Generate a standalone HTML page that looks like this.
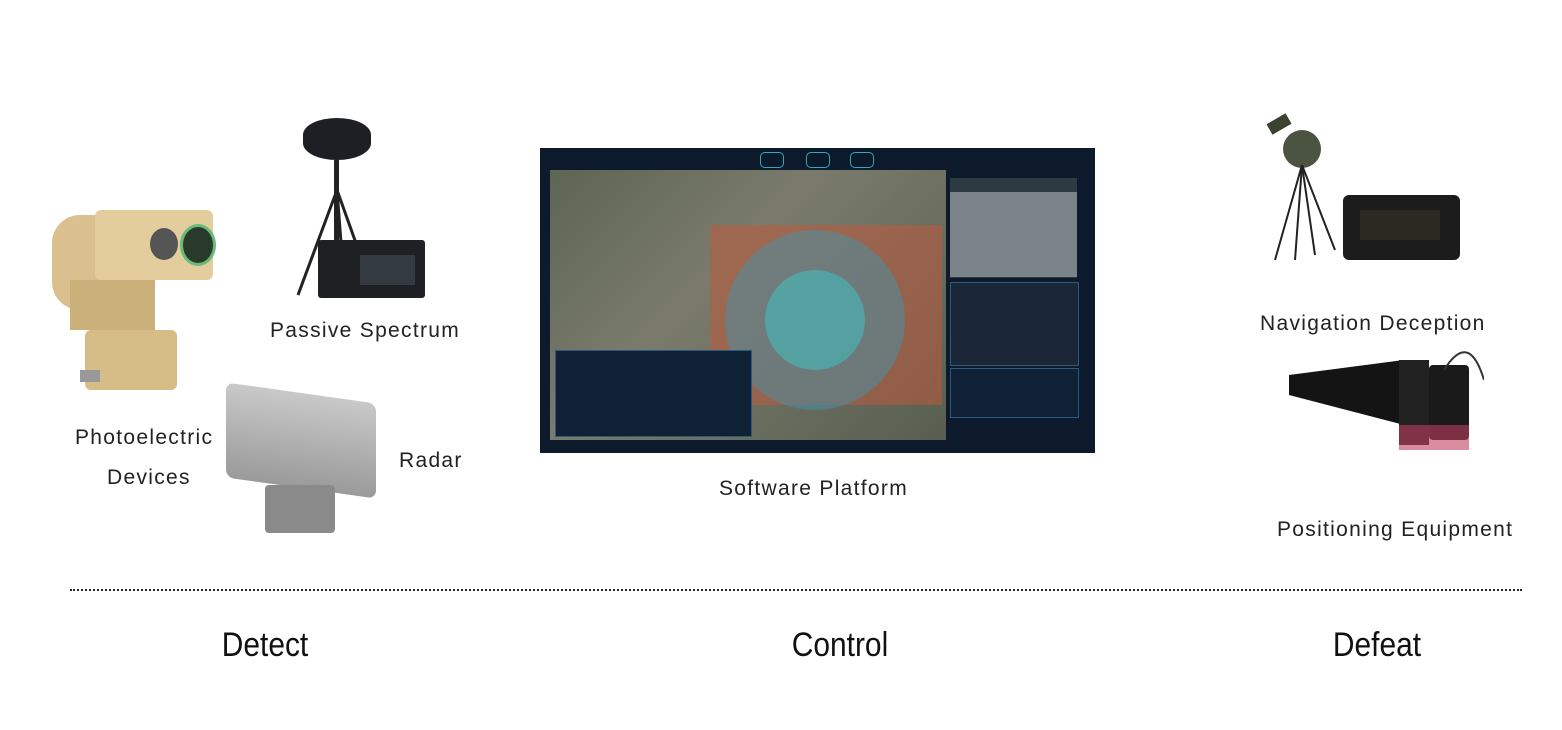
<!DOCTYPE html>
<html><head><meta charset="utf-8"><style>
body{margin:0;width:1562px;height:730px;background:#fff;position:relative;overflow:hidden;font-family:"Liberation Sans","DejaVu Sans",sans-serif}
.a{position:absolute}
.lbl{position:absolute;font-size:21px;letter-spacing:1.3px;color:#222;white-space:nowrap}
.big{position:absolute;font-size:34px;color:#111;white-space:nowrap;transform:scaleX(0.88);transform-origin:center}
</style></head><body>

<!-- Photoelectric device -->
<div class="a" style="left:52px;top:215px;width:58px;height:95px;background:#d9c08e;border-radius:28px 10px 10px 28px"></div>
<div class="a" style="left:95px;top:210px;width:118px;height:70px;background:#e3cd9c;border-radius:6px"></div>
<div class="a" style="left:150px;top:228px;width:28px;height:32px;background:#555;border-radius:50%"></div>
<div class="a" style="left:180px;top:224px;width:30px;height:36px;background:#2a3a2a;border-radius:50%;border:3px solid #6b7"></div>
<div class="a" style="left:70px;top:280px;width:85px;height:50px;background:#ccb07a"></div>
<div class="a" style="left:85px;top:330px;width:92px;height:60px;background:#d6bd88;border-radius:6px"></div>
<div class="a" style="left:80px;top:370px;width:20px;height:12px;background:#999"></div>

<!-- Passive spectrum -->
<div class="a" style="left:303px;top:118px;width:68px;height:42px;background:#1d1f24;border-radius:50%/40%"></div>
<div class="a" style="left:334px;top:160px;width:5px;height:80px;background:#222"></div>
<svg class="a" style="left:290px;top:160px" width="100" height="140"><line x1="47" y1="30" x2="8" y2="135" stroke="#222" stroke-width="3"/><line x1="47" y1="30" x2="55" y2="135" stroke="#222" stroke-width="3"/><line x1="47" y1="30" x2="72" y2="100" stroke="#222" stroke-width="3"/></svg>
<div class="a" style="left:318px;top:240px;width:107px;height:58px;background:#1e2024;border-radius:3px"></div>
<div class="a" style="left:360px;top:255px;width:55px;height:30px;background:#333a40"></div>
<div class="lbl" style="left:270px;top:319px">Passive Spectrum</div>

<!-- Radar -->
<div class="a" style="left:226px;top:393px;width:150px;height:95px;background:linear-gradient(#c9c9c9,#9a9a9a);border-radius:8px;transform:skewY(8deg)"></div>
<div class="a" style="left:265px;top:485px;width:70px;height:48px;background:#8a8a8a;border-radius:4px"></div>
<div class="lbl" style="left:75px;top:426px">Photoelectric</div>
<div class="lbl" style="left:107px;top:466px">Devices</div>
<div class="lbl" style="left:399px;top:449px">Radar</div>

<!-- Software platform -->
<div class="a" style="left:540px;top:148px;width:555px;height:305px;background:#0d1a2c"></div>
<div class="a" style="left:550px;top:170px;width:396px;height:270px;background:linear-gradient(135deg,#5d6554,#7a7b6c 40%,#575e50)"></div>
<div class="a" style="left:710px;top:225px;width:232px;height:180px;background:rgba(190,90,60,.55)"></div>
<div class="a" style="left:725px;top:230px;width:180px;height:180px;border-radius:50%;background:rgba(60,150,180,.45)"></div>
<div class="a" style="left:765px;top:270px;width:100px;height:100px;border-radius:50%;background:rgba(60,200,200,.5)"></div>
<div class="a" style="left:555px;top:350px;width:195px;height:85px;background:#0f2235;border:1px solid #2a5a80"></div>
<div class="a" style="left:950px;top:178px;width:127px;height:100px;background:#2c3a42"></div>
<div class="a" style="left:950px;top:192px;width:127px;height:85px;background:#7a8488"></div>
<div class="a" style="left:950px;top:282px;width:127px;height:82px;background:#1a2635;border:1px solid #2a5a80"></div>
<div class="a" style="left:950px;top:368px;width:127px;height:48px;background:#0f2235;border:1px solid #2a5a80"></div>
<div class="a" style="left:760px;top:152px;width:22px;height:14px;border:1px solid #3ab;border-radius:5px"></div>
<div class="a" style="left:806px;top:152px;width:22px;height:14px;border:1px solid #3ab;border-radius:5px"></div>
<div class="a" style="left:850px;top:152px;width:22px;height:14px;border:1px solid #3ab;border-radius:5px"></div>
<div class="lbl" style="left:719px;top:477px">Software Platform</div>

<!-- Navigation deception -->
<div class="a" style="left:1283px;top:130px;width:38px;height:38px;border-radius:50%;background:#4a5440"></div>
<div class="a" style="left:1268px;top:118px;width:22px;height:12px;background:#3a4230;transform:rotate(-30deg)"></div>
<svg class="a" style="left:1270px;top:165px" width="90" height="100"><g stroke="#222" stroke-width="2"><line x1="32" y1="0" x2="5" y2="95"/><line x1="32" y1="0" x2="25" y2="95"/><line x1="32" y1="0" x2="45" y2="90"/><line x1="32" y1="0" x2="65" y2="85"/></g></svg>
<div class="a" style="left:1343px;top:195px;width:117px;height:65px;background:#1b1b1b;border-radius:6px"></div>
<div class="a" style="left:1360px;top:210px;width:80px;height:30px;background:#2a2a22"></div>
<div class="lbl" style="left:1260px;top:312px">Navigation Deception</div>

<!-- Positioning equipment -->
<svg class="a" style="left:1284px;top:340px" width="200" height="150"><polygon points="5,35 120,20 120,85 5,55" fill="#141414"/><rect x="115" y="20" width="30" height="85" fill="#222"/><rect x="145" y="25" width="40" height="75" fill="#1a1a1a" rx="4"/><rect x="115" y="85" width="70" height="25" fill="#c04060" opacity=".6"/><path d="M160 30 Q185 -10 200 40" stroke="#333" fill="none" stroke-width="2"/></svg>
<div class="lbl" style="left:1277px;top:518px">Positioning Equipment</div>

<!-- dotted line -->
<div class="a" style="left:70px;top:589px;width:1452px;border-top:2px dotted #222"></div>

<div class="big" style="left:210px;top:626px;width:110px;text-align:center">Detect</div>
<div class="big" style="left:775px;top:626px;width:130px;text-align:center">Control</div>
<div class="big" style="left:1322px;top:626px;width:110px;text-align:center">Defeat</div>
</body></html>
